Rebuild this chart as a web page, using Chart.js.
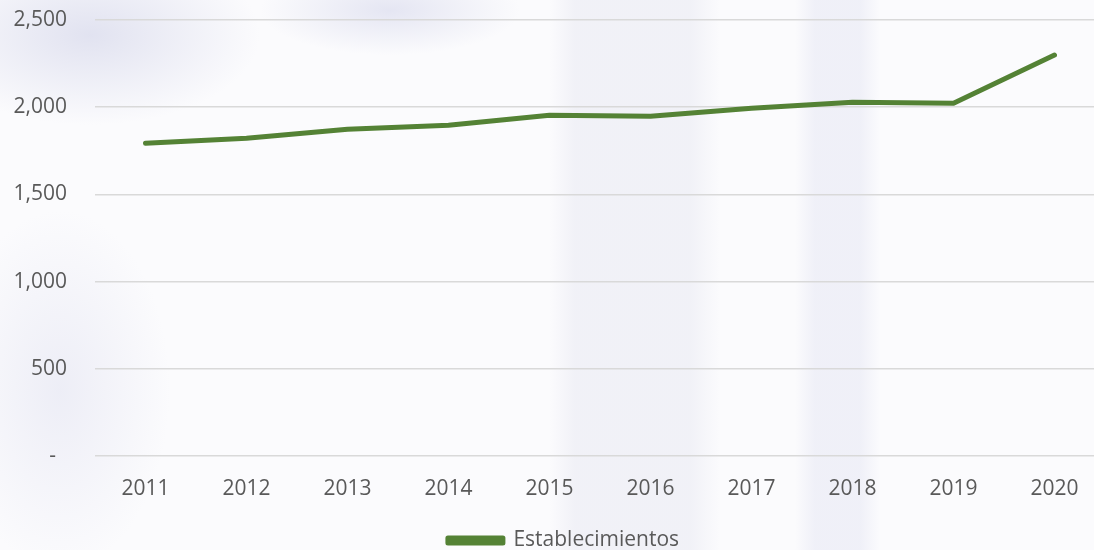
<!DOCTYPE html>
<html>
<head>
<meta charset="utf-8">
<script src="https://cdn.jsdelivr.net/npm/chart.js@4/dist/chart.umd.min.js"></script>
<style>
  html, body {
    margin: 0;
    padding: 0;
    width: 1094px;
    height: 550px;
    overflow: hidden;
  }
  body {
    background:
      radial-gradient(ellipse 170px 90px at 90px 35px, rgba(208, 210, 232, 0.6), rgba(208, 210, 232, 0) 100%),
      radial-gradient(ellipse 130px 45px at 390px 10px, rgba(210, 212, 234, 0.55), rgba(210, 212, 234, 0) 100%),
      linear-gradient(90deg, rgba(255,255,255,0) 550px, rgba(222, 223, 236, 0.35) 575px, rgba(222, 223, 236, 0.35) 690px, rgba(255,255,255,0) 720px),
      linear-gradient(90deg, rgba(255,255,255,0) 795px, rgba(218, 220, 238, 0.35) 815px, rgba(218, 220, 238, 0.35) 860px, rgba(255,255,255,0) 880px),
      radial-gradient(ellipse 110px 180px at 60px 390px, rgba(220, 221, 238, 0.45), rgba(220, 221, 238, 0) 100%),
      #fbfbfd;
  }
  #wrap {
    position: relative;
    width: 1105px;
    height: 550px;
  }
</style>
</head>
<body>
<div id="wrap"><canvas id="chart"></canvas></div>
<script>
const years = ["2011", "2012", "2013", "2014", "2015", "2016", "2017", "2018", "2019", "2020"];
const establecimientos = [1793, 1822, 1874, 1897, 1954, 1948, 1994, 2029, 2023, 2299];
const yTicks = [0, 500, 1000, 1500, 2000, 2500];

const fontFamily = "'Open Sans', 'Noto Sans', sans-serif";
const textColor = "#595959";

// nudge the legend a bit right, like in the original
const legendShift = {
  id: "legendShift",
  afterLayout(chart) {
    chart.legend.left += 11;
    chart.legend.right += 11;
  },
};

new Chart(document.getElementById("chart"), {
  type: "line",
  data: {
    labels: years,
    datasets: [
      {
        label: "Establecimientos",
        data: establecimientos,
        borderColor: "#548235",
        backgroundColor: "#548235",
        borderWidth: 5,
        borderCapStyle: "round",
        borderJoinStyle: "round",
        pointRadius: 0,
        tension: 0,
      },
    ],
  },
  plugins: [legendShift],
  options: {
    responsive: true,
    maintainAspectRatio: false,
    animation: false,
    layout: {
      padding: { top: 20, bottom: -11 },
    },
    scales: {
      x: {
        offset: true,
        afterFit: (scale) => {
          scale.height = 68;
        },
        grid: { display: false },
        border: { display: false },
        ticks: {
          color: textColor,
          padding: 12,
          font: { family: fontFamily, size: 21 },
        },
      },
      y: {
        min: 0,
        max: 2500,
        afterFit: (scale) => {
          scale.width = 95;
          scale.paddingTop = 0;
          scale.paddingBottom = 0;
        },
        afterBuildTicks: (scale) => {
          scale.ticks = yTicks.map((v) => ({ value: v }));
        },
        grid: { color: "#d9d9d9", lineWidth: 1.5, drawTicks: false },
        border: { display: false },
        ticks: {
          color: textColor,
          padding: 28,
          font: { family: fontFamily, size: 21 },
          callback: (v) => (v === 0 ? "-  " : v.toLocaleString("en-US")),
        },
      },
    },
    plugins: {
      legend: {
        position: "bottom",
        labels: {
          color: textColor,
          boxWidth: 55,
          boxHeight: 5,
          padding: 6,
          font: { family: fontFamily, size: 21 },
        },
      },
      tooltip: { enabled: false },
    },
  },
});
</script>
</body>
</html>
